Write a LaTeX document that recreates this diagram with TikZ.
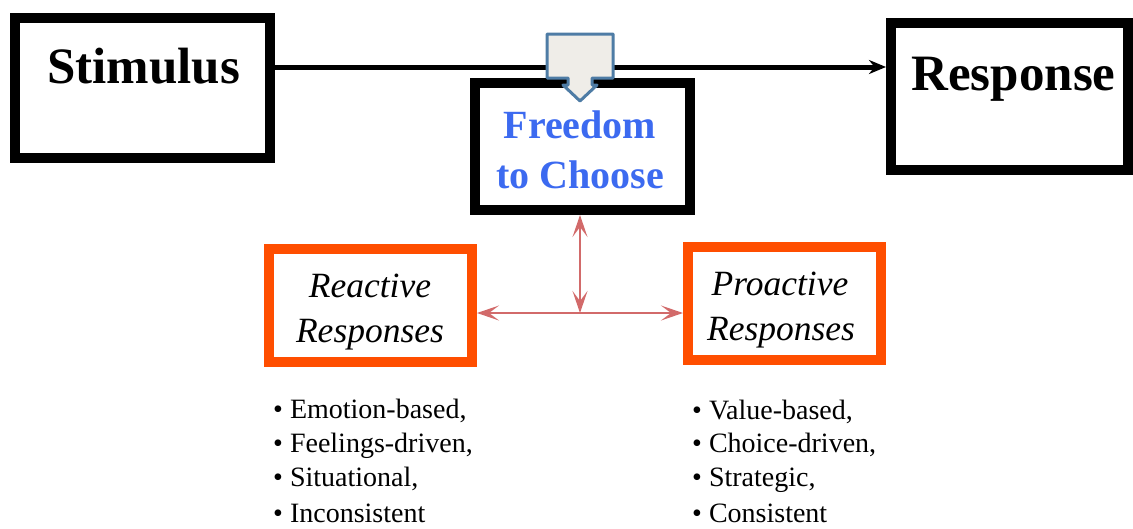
\documentclass[tikz,border=0pt]{standalone}
\usepackage{fontspec}
\setmainfont{Liberation Serif}
\usetikzlibrary{arrows.meta}
\definecolor{freeblue}{RGB}{60,106,240}
\definecolor{boxorange}{RGB}{255,78,0}
\definecolor{linkred}{RGB}{210,106,106}
\definecolor{calloutfill}{RGB}{239,237,232}
\definecolor{calloutedge}{RGB}{78,124,165}
\tikzset{
  blackbox/.style={draw=black, line width=10pt, fill=white, inner sep=0pt},
  orangebox/.style={draw=boxorange, line width=10pt, fill=white, inner sep=0pt},
  bigtext/.style={font=\fontsize{51}{51}\selectfont\bfseries, inner sep=0pt, anchor=base},
  freetext/.style={font=\fontsize{40}{40}\selectfont\bfseries, text=freeblue, inner sep=0pt, anchor=base},
  ittext/.style={font=\fontsize{35.5}{35.5}\selectfont\itshape, inner sep=0pt, anchor=base},
  bullettext/.style={font=\fontsize{28}{28}\selectfont, inner sep=0pt, anchor=base west},
  mainarrow/.style={line width=5pt, -{Stealth[length=17pt,width=14pt]}},
  redtip/.tip={Stealth[length=22pt,width=15pt,inset=10pt]},
  redarrow/.style={draw=linkred, line width=2.2pt, -redtip},
  callout/.style={draw=calloutedge, fill=calloutfill, line width=3pt, line join=round}
}
\begin{document}
\begin{tikzpicture}[x=1pt,y=-1pt]
\useasboundingbox (0,0) rectangle (1133,528);
% boxes
\node[blackbox, minimum width=255pt, minimum height=140pt] (stim) at (142.5,88) {};
\node[blackbox, minimum width=237pt, minimum height=147pt] (resp) at (1009.5,96.5) {};
\node[blackbox, minimum width=215pt, minimum height=127pt] (free) at (582.5,146.5) {};
\node[orangebox, minimum width=203pt, minimum height=113pt] (react) at (370.5,305.5) {};
\node[orangebox, minimum width=193pt, minimum height=113pt] (pro) at (784.5,303.5) {};
% texts
\node[bigtext] (stimt) at (143.5,83) {Stimulus};
\node[bigtext] (respt) at (1013.5,90) {Response};
\node[freetext] (free1) at (580,138) {Freedom};
\node[freetext] (free2) at (580,188) {to Choose};
\node[ittext] (react1) at (370,297) {Reactive};
\node[ittext] (react2) at (370,342) {Responses};
\node[ittext] (pro1) at (780,295) {Proactive};
\node[ittext] (pro2) at (781,340) {Responses};
% main arrow
\coordinate (lineY) at (0,67);
\draw[mainarrow] (stim.east |- lineY) -- (resp.west |- lineY);
% callout
\draw[callout] (547,34) -- (613,34) -- (613,78) -- (592,78) -- (592,85) -- (597,85)
  -- (580,101) -- (563,85) -- (568,85) -- (568,78) -- (547,78) -- cycle;
% red connectors
\coordinate (junc) at (580,313);
\draw[redarrow, redtip-redtip] (junc |- free.south) -- (junc);
\draw[redarrow] (junc) -- (junc -| react.east);
\draw[redarrow] (junc) -- (junc -| pro.west);
% bullet lists
\node[bullettext] (l1) at (273,418) {\textbullet\ Emotion-based,};
\node[bullettext] (l2) at (273,452) {\textbullet\ Feelings-driven,};
\node[bullettext] (l3) at (273,486) {\textbullet\ Situational,};
\node[bullettext] (l4) at (273,522) {\textbullet\ Inconsistent};
\node[bullettext] (r1) at (692,419) {\textbullet\ Value-based,};
\node[bullettext] (r2) at (692,452) {\textbullet\ Choice-driven,};
\node[bullettext] (r3) at (692,486) {\textbullet\ Strategic,};
\node[bullettext] (r4) at (692,522) {\textbullet\ Consistent};
\end{tikzpicture}
\end{document}
